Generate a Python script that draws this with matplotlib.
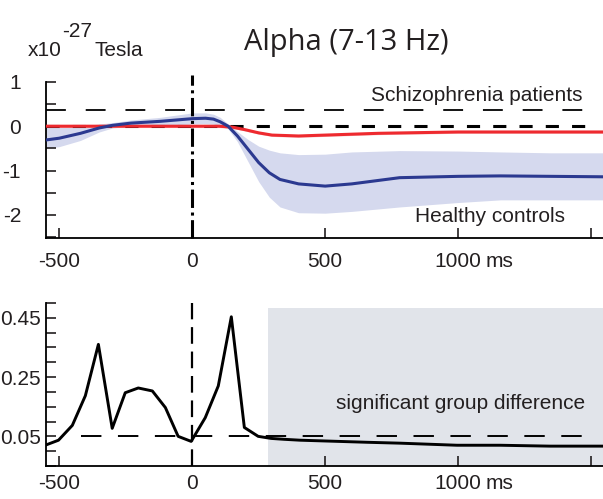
import matplotlib.pyplot as plt
from matplotlib.ticker import MultipleLocator

plt.rcParams['font.family'] = ['Liberation Sans', 'DejaVu Sans']
plt.rcParams['axes.unicode_minus'] = False

# alpha power time courses (ms, x10^-27 Tesla)
t_pat = [-550, -400, -200, 0, 100, 150, 200, 250, 300, 400, 500, 700, 1000, 1300, 1545]
patients = [0.0, 0.0, 0.0, 0.0, 0.0, -0.02, -0.08, -0.15, -0.2, -0.22, -0.2, -0.16, -0.13, -0.13, -0.13]

t_ctl = [-550, -500, -420, -350, -300, -230, -120, 0, 50, 80, 105, 135, 170, 210, 250, 290, 330, 400, 500, 600, 780, 1000, 1160, 1350, 1545]
controls = [-0.31, -0.27, -0.16, -0.04, 0.02, 0.07, 0.11, 0.17, 0.18, 0.16, 0.1, 0.0, -0.22, -0.52, -0.82, -1.05, -1.2, -1.3, -1.35, -1.3, -1.16, -1.13, -1.12, -1.13, -1.14]
ctl_upper = [0.0, 0.0, 0.0, 0.05, 0.08, 0.14, 0.2, 0.3, 0.3, 0.27, 0.2, 0.05, -0.12, -0.3, -0.45, -0.54, -0.6, -0.64, -0.63, -0.58, -0.55, -0.56, -0.58, -0.6, -0.6]
ctl_lower = [-0.5, -0.46, -0.32, -0.13, -0.04, 0.0, 0.02, 0.05, 0.06, 0.05, 0.0, -0.06, -0.35, -0.8, -1.25, -1.6, -1.82, -1.95, -1.96, -1.92, -1.82, -1.72, -1.66, -1.66, -1.66]

# p-values of the group comparison
t_p = [-553, -503, -451, -402, -353, -301, -252, -203, -150, -101, -53, -4, 49, 98, 147, 196, 248, 297, 346, 406, 658, 782, 996, 1158, 1346, 1545]
p_vals = [0.02, 0.037, 0.087, 0.187, 0.36, 0.077, 0.197, 0.213, 0.203, 0.147, 0.05, 0.033, 0.113, 0.22, 0.453, 0.08, 0.05, 0.043, 0.04, 0.037, 0.03, 0.027, 0.02, 0.02, 0.017, 0.017]

sig_start = 285

blue = '#2b3990'
red = '#ee2a2f'
txt = '#231f20'
fs = 15

fig = plt.figure(figsize=(6.03, 4.99), dpi=100)
ax1 = fig.add_axes([0.0763, 0.523, 0.9237, 0.313])
ax2 = fig.add_axes([0.0763, 0.0661, 0.9237, 0.327])

for ax, xpad in ((ax1, 10), (ax2, 6)):
    ax.spines['top'].set_visible(False)
    ax.spines['right'].set_visible(False)
    ax.spines['left'].set_linewidth(1.3)
    ax.spines['bottom'].set_linewidth(1.3)
    ax.set_xlim(-550, 1545)
    ax.set_xticks([-500, 0, 500, 1000, 1500])
    ax.set_xticklabels(['-500', '0', '500', '1000', ''])
    ax.tick_params(direction='in', length=7, width=1.2, labelsize=fs, colors=txt)
    ax.tick_params(which='minor', direction='in', length=7, width=1.2, colors=txt)
    ax.tick_params(axis='x', pad=xpad)
    ax.annotate('ms', xy=(1000, 0), xycoords=('data', 'axes fraction'),
                xytext=(19.5, -xpad), textcoords='offset points', ha='left', va='top',
                fontsize=fs, color=txt, annotation_clip=False)

# top panel: mean amplitude per group
ax1.fill_between(t_ctl, ctl_lower, ctl_upper, color='#d5d9ee', lw=0)
ax1.fill_between(t_pat, [v - 0.03 for v in patients], [v + 0.03 for v in patients],
                 color='#f7c3c5', lw=0)
ax1.hlines(0.36, -550, 1470, colors='k', lw=1.3, linestyles=(0, (11, 11)))
ax1.hlines(0.0, -550, 1496, colors='k', lw=2.2, linestyles=(0, (4.3, 4.3)), zorder=3)
ax1.plot(t_pat, patients, color=red, lw=2.2, zorder=4)
ax1.plot(t_ctl, controls, color=blue, lw=2.2, zorder=4)
ax1.axvline(0, ymin=0, ymax=1.045, color='k', lw=2.2, linestyle=(0, (6, 1.5, 1, 1.5)),
            clip_on=False, zorder=5)
ax1.set_ylim(-2.52, 1.0)
ax1.set_yticks([1, 0, -1, -2])
ax1.yaxis.set_minor_locator(MultipleLocator(0.5))
ax1.tick_params(axis='y', pad=18)
ax1.text(1071, 0.7, 'Schizophrenia patients', fontsize=fs, ha='center', va='center',
         color=txt)
ax1.text(1120, -2.04, 'Healthy controls', fontsize=fs, ha='center', va='center',
         color=txt)

# bottom panel: p-values with significance window
ax2.axvspan(sig_start, 1545, ymin=0.0, ymax=0.97, color='#e1e4ea', lw=0)
ax2.hlines(0.05, -420, 1470, colors='k', lw=1.4, linestyles=(0, (10.5, 8.5)))
ax2.axvline(0, color='k', lw=1.6, linestyle=(0, (7.5, 3.5)))
ax2.plot(t_p, p_vals, color='k', lw=2.1, zorder=4)
ax2.set_ylim(-0.05, 0.5)
ax2.set_yticks([0.05, 0.25, 0.45])
ax2.set_yticklabels(['0.05', '0.25', '0.45'])
ax2.yaxis.set_minor_locator(MultipleLocator(0.05))
ax2.tick_params(axis='y', pad=3.5)
ax2.text(1008, 0.16, 'significant group difference', fontsize=fs, ha='center',
         va='center', color=txt)

# units and title
fig.text(0.046, 0.898, 'x10', fontsize=fs, color=txt, va='center')
fig.text(0.103, 0.936, '-27', fontsize=fs, color=txt, va='center')
fig.text(0.157, 0.898, 'Tesla', fontsize=fs, color=txt, va='center')
fig.text(0.575, 0.915, 'Alpha (7-13 Hz)', fontsize=21, family=['Open Sans', 'DejaVu Sans'],
         color=txt, ha='center', va='center')

fig.savefig('out.png', dpi=100)
